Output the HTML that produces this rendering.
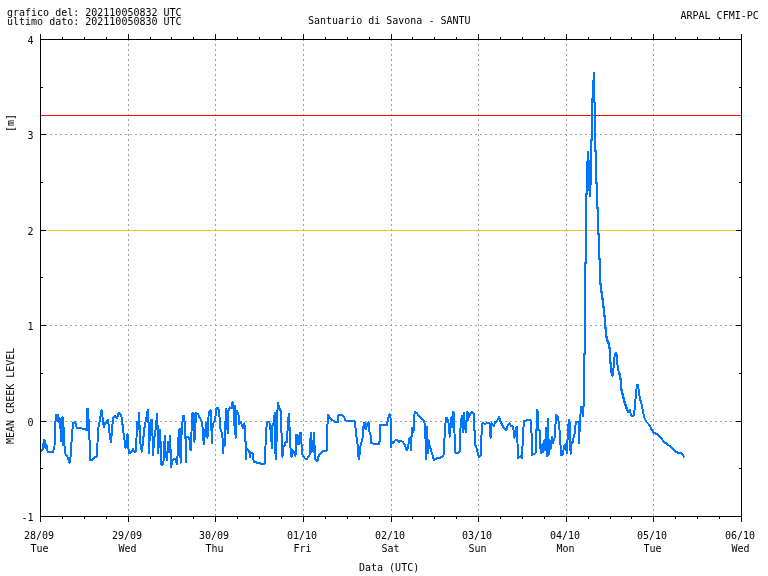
<!DOCTYPE html>
<html><head><meta charset="utf-8"><title>Santuario di Savona - SANTU</title><style>
html,body{margin:0;padding:0;background:#fff;overflow:hidden}
svg{display:block}
svg text{font-family:"DejaVu Sans Mono","Liberation Mono",monospace;font-size:10px;fill:#000}
</style></head><body>
<svg width="768" height="576" viewBox="0 0 768 576">
<rect width="768" height="576" fill="#fff"/>
<path d="M128.5 39V516 M215.5 39V516 M303.5 39V516 M391.5 39V516 M478.5 39V516 M566.5 39V516 M653.5 39V516 M40 421.5H741 M40 325.5H741 M40 230.5H741 M40 134.5H741" stroke="#a0a0a0" stroke-width="1" stroke-dasharray="2 3" fill="none" shape-rendering="crispEdges"/>
<path d="M41 115.5H741" stroke="#ff0000" stroke-width="1" shape-rendering="crispEdges"/>
<path d="M41 230.5H741" stroke="#ffc020" stroke-width="1" shape-rendering="crispEdges"/>
<path d="M40.5 451 L41.75 450.5 L42.75 449.25 L44 439.9 L45 441 L45.5 448 L46.5 445.5 L47.75 451.75 L50 452.4 L53.1 452 L54.5 446 L55 428 L56 415 L58 414.5 L58.5 422 L59.5 418 L60.5 429 L61 441 L61.5 420 L62.5 417 L63 432 L63 445 L64 428 L64.5 446 L65.6 454.25 L67.5 456.75 L69.4 463 L70.6 456.75 L71.9 435.5 L73.1 423 L75 421.75 L76.9 428 L78.75 428 L82.5 428.6 L86.9 429.9 L87.25 409.25 L88.1 409.25 L89 429.25 L89.75 444.25 L90.25 460.5 L91.9 459.9 L93.75 458 L97.25 456.1 L97.75 430.5 L99.4 423 L101.5 410 L102.5 416.75 L103.75 427.4 L105 422.4 L106.25 423 L107.75 419.9 L109 426.75 L110 438 L111 442.4 L111.9 430.5 L113.1 418 L115 416.1 L116.9 418 L118.75 413 L120.6 414.9 L121.9 418 L123.1 430.5 L124.4 439.25 L125.6 448 L126.25 445.5 L127.5 434.25 L128.1 445.5 L129 453.6 L131.25 451.75 L133.1 449.25 L134.4 451.75 L135.6 451.75 L136.5 438 L137.25 421.75 L138.1 429.25 L139 413 L139.75 430.5 L140.6 445.5 L141.9 451.75 L143.1 440.5 L144.4 428 L145.6 421.75 L146.9 415.5 L147.75 409.9 L148.5 423 L149 453 L149.75 435.5 L150.6 420.5 L151.9 419.9 L152.5 435.5 L153.1 455.5 L154 439.25 L155 434.25 L156 426.75 L157 413.6 L157.75 430.5 L158.25 453 L159 438 L160 429.9 L160.75 445.5 L161.25 464.25 L162.5 464.9 L163.75 460.5 L164.75 435.5 L165.6 453 L166.9 460.5 L168.1 441.75 L169 451.75 L170 435.5 L170.6 451.75 L171.25 466.75 L172.5 460.5 L173.75 459.25 L175.6 458.6 L176.9 464.25 L178.1 448 L178.75 430.5 L180 429.25 L180.6 463 L181.5 435.5 L182.25 424.25 L183.1 416.1 L184 415.5 L184.75 423 L185.6 440.5 L186 461.75 L186.5 436.75 L188.1 437.4 L189.4 438.6 L190.6 450.5 L191.25 438 L192.25 413.6 L193.5 413 L194.4 441.75 L195.25 426.75 L196.25 413 L198.1 414.25 L199.75 418 L201.25 419.9 L202.5 426.75 L203.75 444.25 L205 433 L206.25 423 L207.5 438 L208.75 411.75 L210.6 410.5 L211.25 423 L211.9 443 L212.5 428 L213.5 423 L215 421.1 L216.25 408.6 L217.75 408 L219 410.5 L219.75 420.5 L220.6 430.5 L221.9 432.4 L222.5 438 L223.1 453 L224 439.25 L224.75 445.5 L225.25 426.75 L226 409.25 L226.9 423 L227.75 433 L228.5 410.5 L229.75 407.4 L231.25 408 L232.5 401.75 L233.5 409.25 L234 425.5 L234.75 405.5 L235.6 438 L236.25 410.5 L237.5 411.75 L238.75 415.5 L239.4 424.25 L240.6 421.75 L241.9 424.9 L243.1 428.6 L244.4 423 L245 433 L245.6 443 L246 459.25 L246.5 448 L247.75 449.25 L249.4 451.75 L250 456.75 L250.6 452.4 L252.5 453 L253.75 461.75 L255.6 462.4 L258.75 462.75 L260.6 463.6 L264.75 463.6 L265.25 453 L266 431.75 L266.9 423 L268.75 421.75 L270 424.25 L271.25 438 L271.9 448 L272.5 425.5 L273.75 423 L274.75 413 L275.25 451.75 L276 459.25 L276.9 429.25 L277.75 403 L279.4 408 L280.6 410.5 L281.25 426.75 L282.5 456.75 L283.1 445.5 L284.75 445.5 L285.6 441.75 L286.9 441.75 L287.75 426.75 L288.75 413.6 L289.75 430.5 L290.5 448 L291.5 457 L292.5 450 L294 452 L295.5 456 L296 444 L296.5 434.5 L297.5 434.5 L298 444 L298.5 437 L299.5 444 L300.5 432.5 L301 432.5 L301.5 444 L302 453.6 L303 456 L305 458.6 L306.9 459.25 L308.75 456.1 L309.5 456 L310 444 L311 432.5 L311 452 L312.5 441 L313.5 452 L314 432.5 L314.5 445 L315 459 L317.5 461.3 L318.75 455.5 L320.6 453 L322.5 451.1 L326.9 450.5 L327.25 434.25 L327.75 414.9 L329.4 416.75 L331.25 419.25 L333.75 421.1 L336.25 422.4 L337.75 422.4 L338.5 415.5 L340 414.9 L342.5 414.9 L344.4 418 L345.6 420.5 L347.5 420.5 L349.4 421.1 L353.75 421.1 L355 422.4 L356 433 L357.5 444.25 L358.75 459.25 L359.75 453 L360.6 445.5 L362.5 438 L363.75 423 L364.75 423 L365.6 429.25 L366.5 426.75 L367.5 423 L368.75 422.4 L369.4 431.75 L370.6 435.5 L371.25 443 L373.75 443.6 L379.4 443.6 L380 433 L380.25 424.9 L382.5 424.9 L386.9 424.9 L387.5 421.75 L388.5 416.75 L389.75 414.25 L390.6 418 L391 446.75 L391.5 441.75 L393.1 443 L395 440.5 L396.9 439.9 L398.75 441.75 L401 441.1 L402.5 441.75 L404.4 444.25 L405.6 447.4 L406.9 450.5 L408.1 446.75 L409.4 438 L410.25 437.4 L411 449.9 L411.9 428 L412.75 428 L413.5 431.75 L414 416.75 L415 411.75 L416.9 413 L418.75 416.1 L421.25 418.6 L423.75 421.1 L425 424.25 L425.6 441.75 L426 459.25 L426.5 426.75 L427.25 428 L427.75 453 L428.5 440.5 L430 446.75 L431.9 453 L433.75 459.9 L436.25 458.6 L438.75 457.75 L441.25 457.4 L443.5 455.5 L444 448 L445 429.25 L446 418 L447.25 418 L448.1 420.5 L449 426.75 L449.75 436.75 L450.6 425.5 L451.5 417.4 L452.25 426.75 L452.75 411.75 L453.75 412.4 L454.5 433 L455 451.75 L456.25 453 L458.1 453 L459.75 451.1 L460 437 L461 420 L462 416 L463 432 L464 413 L464.5 421 L464 429 L465.5 421 L466 432 L467 412 L468 413 L467.5 421 L470 414 L471 413 L472 412 L473 413 L474 414.5 L474 430.5 L475 431 L475 444.25 L476.25 447.4 L477.5 451.75 L478.75 456.75 L480.6 456.1 L481.25 441.75 L481.9 424.25 L483.1 423 L485 424.25 L486.5 423 L489.4 423 L490.6 438 L491.5 423 L492.5 424.25 L493.75 426.1 L495 422.4 L496.9 421.1 L499 416.75 L500.6 421.75 L503.1 426.75 L505.25 429.25 L506.25 430.5 L507.5 426.1 L509.4 423 L511.25 426.1 L513.1 426.75 L514.4 438 L515.25 430.5 L516.9 426.75 L517.5 443 L517.75 458 L519.4 457.4 L521 455.5 L522.25 458 L522.75 435.5 L524 421.1 L526.25 420.5 L528.1 419.9 L530.6 420.5 L531.9 438 L532.25 454.9 L533.75 454.25 L535.6 453 L536.25 441.75 L536.9 409.9 L537.75 411.75 L538.5 430.5 L539.5 430 L540 444 L541 453 L542.5 444 L543 452 L544 441 L545 450 L546 428 L547 456 L548 419 L548.5 455.5 L549.5 440 L550.5 449 L552 437 L553 443 L554.5 438 L555.25 426.75 L556.25 414.9 L558.1 417.4 L559.4 428 L560.25 441.75 L561.25 454.9 L563.1 454.25 L564 445.5 L565.25 444.25 L566.9 453 L567.75 435.5 L568.75 419.9 L569.75 423 L570.6 453.6 L571.5 441.75 L572.5 443 L573.5 438 L574.4 435.5 L575 428 L576 422 L578.5 422 L579 443 L580 422 L581 407 L582 407 L583 416 L583.5 407 L584 406 L584 354 L585 354 L585 263 L586 263 L586 194 L587 194 L587 162 L588 160 L588 152 L588 190 L589 161 L590 196 L590 161 L591 184 L591 140 L592 140 L592 99 L593 99 L593 81 L594 81 L594 72.5 L594 102.5 L595 103 L595 151 L596 151 L596 183 L597 183 L597 208 L598 208 L598 234 L599 234 L599 259 L600 259 L600 284 L601 284 L601 292 L602 292 L602 299 L603 299 L603 307 L604 307 L604 316 L605 316 L605 328 L606 328 L606 337 L607 337 L607 341 L608 341 L608 343 L609 343 L609 348 L610 348 L610 363 L611 363 L611 370 L612 375.5 L613 375.5 L614 360 L615 354 L616 353 L617 356 L617 362 L618 368 L619 374 L620 374 L620 379 L621 379 L621 390 L622 390 L622 394 L623 394 L623 398 L624 398 L624 402 L625 402 L625 405 L626 405 L626 408 L627 408 L627 410.5 L628 410.5 L628 412 L629 412 L630 410 L631 415.5 L633 416 L634 415 L635 406 L636 393 L637 384.5 L638 384.75 L638.6 389.75 L639.25 394.75 L639.9 398.5 L641.1 402.25 L642 406 L643 412.25 L644.25 417.25 L646.1 421.6 L648 423.5 L649.9 426 L651.75 429.75 L653.6 432.9 L655.5 433.5 L658 434.75 L659.9 436.6 L660.4 437.2 L662.3 439.5 L664.3 442.7 L666.25 443.4 L668.2 445.4 L670.2 445.8 L672.5 448.9 L675.2 451.6 L678 452.8 L681.1 453.2 L682.7 454.4 L683.8 456.7" stroke="#0076ff" stroke-width="2" fill="none" stroke-linejoin="round" stroke-linecap="round" shape-rendering="crispEdges"/>
<path d="M40.5 34V522 M741.5 34V522 M40 39.5H742 M40 516.5H742 M40.5 34V39 M40.5 517V522 M62.5 37V39 M62.5 517V519 M84.5 37V39 M84.5 517V519 M106.5 37V39 M106.5 517V519 M128.5 34V39 M128.5 517V522 M150.5 37V39 M150.5 517V519 M171.5 37V39 M171.5 517V519 M193.5 37V39 M193.5 517V519 M215.5 34V39 M215.5 517V522 M237.5 37V39 M237.5 517V519 M259.5 37V39 M259.5 517V519 M281.5 37V39 M281.5 517V519 M303.5 34V39 M303.5 517V522 M325.5 37V39 M325.5 517V519 M347.5 37V39 M347.5 517V519 M369.5 37V39 M369.5 517V519 M391.5 34V39 M391.5 517V522 M412.5 37V39 M412.5 517V519 M434.5 37V39 M434.5 517V519 M456.5 37V39 M456.5 517V519 M478.5 34V39 M478.5 517V522 M500.5 37V39 M500.5 517V519 M522.5 37V39 M522.5 517V519 M544.5 37V39 M544.5 517V519 M566.5 34V39 M566.5 517V522 M588.5 37V39 M588.5 517V519 M610.5 37V39 M610.5 517V519 M631.5 37V39 M631.5 517V519 M653.5 34V39 M653.5 517V522 M675.5 37V39 M675.5 517V519 M697.5 37V39 M697.5 517V519 M719.5 37V39 M719.5 517V519 M741.5 34V39 M741.5 517V522 M41 516.5H46 M736 516.5H741 M41 468.5H43 M739 468.5H741 M41 421.5H46 M736 421.5H741 M41 373.5H43 M739 373.5H741 M41 325.5H46 M736 325.5H741 M41 277.5H43 M739 277.5H741 M41 230.5H46 M736 230.5H741 M41 182.5H43 M739 182.5H741 M41 134.5H46 M736 134.5H741 M41 87.5H43 M739 87.5H741 M41 39.5H46 M736 39.5H741" stroke="#000" stroke-width="1" fill="none" shape-rendering="crispEdges"/>
<g style="filter:grayscale(1)">
<text x="7" y="16">grafico del: 202110050832 UTC</text>
<text x="7" y="25">ultimo dato: 202110050830 UTC</text>
<text x="308" y="24">Santuario di Savona - SANTU</text>
<text x="680.5" y="19">ARPAL CFMI-PC</text>
<text x="27.5" y="44">4</text>
<text x="27.5" y="139">3</text>
<text x="27.5" y="235">2</text>
<text x="27.5" y="330">1</text>
<text x="27.5" y="426">0</text>
<text x="21.5" y="521">-1</text>
<text x="24" y="539">28/09</text>
<text x="30.5" y="552">Tue</text>
<text x="112" y="539">29/09</text>
<text x="118.5" y="552">Wed</text>
<text x="199" y="539">30/09</text>
<text x="205.5" y="552">Thu</text>
<text x="287" y="539">01/10</text>
<text x="293.5" y="552">Fri</text>
<text x="375" y="539">02/10</text>
<text x="381.5" y="552">Sat</text>
<text x="462" y="539">03/10</text>
<text x="468.5" y="552">Sun</text>
<text x="550" y="539">04/10</text>
<text x="556.5" y="552">Mon</text>
<text x="637" y="539">05/10</text>
<text x="643.5" y="552">Tue</text>
<text x="725" y="539">06/10</text>
<text x="731.5" y="552">Wed</text>
<text x="359" y="571">Data (UTC)</text>
<text transform="translate(14,444) rotate(-90)" x="0" y="0">MEAN CREEK LEVEL</text>
<text transform="translate(14,132) rotate(-90)" x="0" y="0">[m]</text>
</g>
</svg>
</body></html>
